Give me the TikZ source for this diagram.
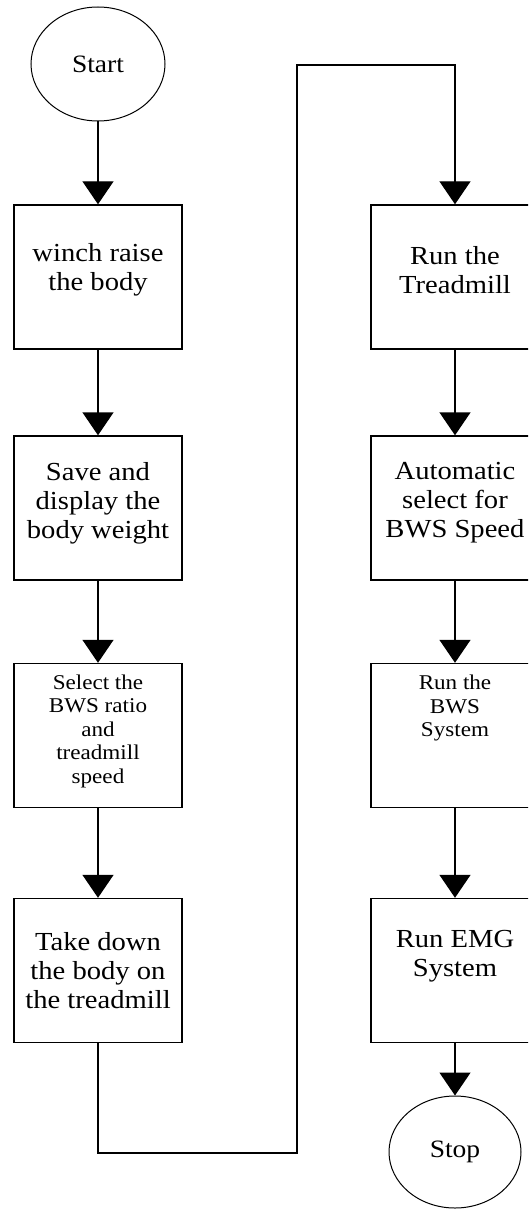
\documentclass[tikz,border=0pt]{standalone}
\usepackage{fontspec}
\setmainfont[FakeStretch=1.1]{Liberation Serif}
\usetikzlibrary{arrows.meta,shapes.geometric}
\begin{document}
\begin{tikzpicture}[x=1pt,y=-1pt,
  box/.style={draw, line width=1.4pt, minimum width=168pt, minimum height=144pt, inner sep=0pt},
  oval/.style={draw, line width=1pt, ellipse, inner sep=0pt, font=\fontsize{25}{29}\selectfont},
  big/.style={align=center, font=\fontsize{26}{29}\selectfont, inner sep=0pt},
  small/.style={align=center, font=\fontsize{21}{23.5}\selectfont, inner sep=0pt},
  flow/.style={line width=1.4pt, line join=miter, -{Triangle[width=31pt,length=23pt]}}]
\useasboundingbox (0,0) rectangle (528,1209);
\clip (0,0) rectangle (528,1209);
% left column
\node[oval, minimum width=134pt, minimum height=114pt] (start) at (98,64) {Start};
\node[box] (b1) at (98,277) {};
\node[box] (b2) at (98,508) {};
\node[box] (b3) at (98,735.5) {};
\node[box] (b4) at (98,970.5) {};
\node[big] (t1) at (98,270) {winch raise\\the body};
\node[big] (t2) at (98,503) {Save and\\display the\\body weight};
\node[small] (t3) at (98,731) {Select the\\BWS ratio\\and\\treadmill\\speed};
\node[big] (t4) at (98,971) {Take down\\the body on\\the treadmill};
% right column
\node[box] (r1) at (455,277) {};
\node[box] (r2) at (455,508) {};
\node[box] (r3) at (455,735.5) {};
\node[box] (r4) at (455,970.5) {};
\node[big] (u1) at (455,270) {Run the\\Treadmill};
\node[big] (u2) at (455,503) {Automatic\\select for\\BWS Speed};
\node[small] (u3) at (455,708) {Run the\\BWS\\System};
\node[big] (u4) at (455,956) {Run EMG\\System};
\node[oval, minimum width=132pt, minimum height=112pt] (stop) at (455,1152) {Stop};
% connectors
\draw[flow] (start) -- (b1);
\draw[flow] (b1) -- (b2);
\draw[flow] (b2) -- (b3);
\draw[flow] (b3) -- (b4);
\coordinate (c1) at (98,1153);
\coordinate (c2) at (297,1153);
\coordinate (c3) at (297,65);
\coordinate (c4) at (455,65);
\draw[flow] (b4.south) -- (c1) -- (c2) -- (c3) -- (c4) -- (r1.north);
\draw[flow] (r1) -- (r2);
\draw[flow] (r2) -- (r3);
\draw[flow] (r3) -- (r4);
\draw[flow] (r4) -- (stop);
\end{tikzpicture}
\end{document}
